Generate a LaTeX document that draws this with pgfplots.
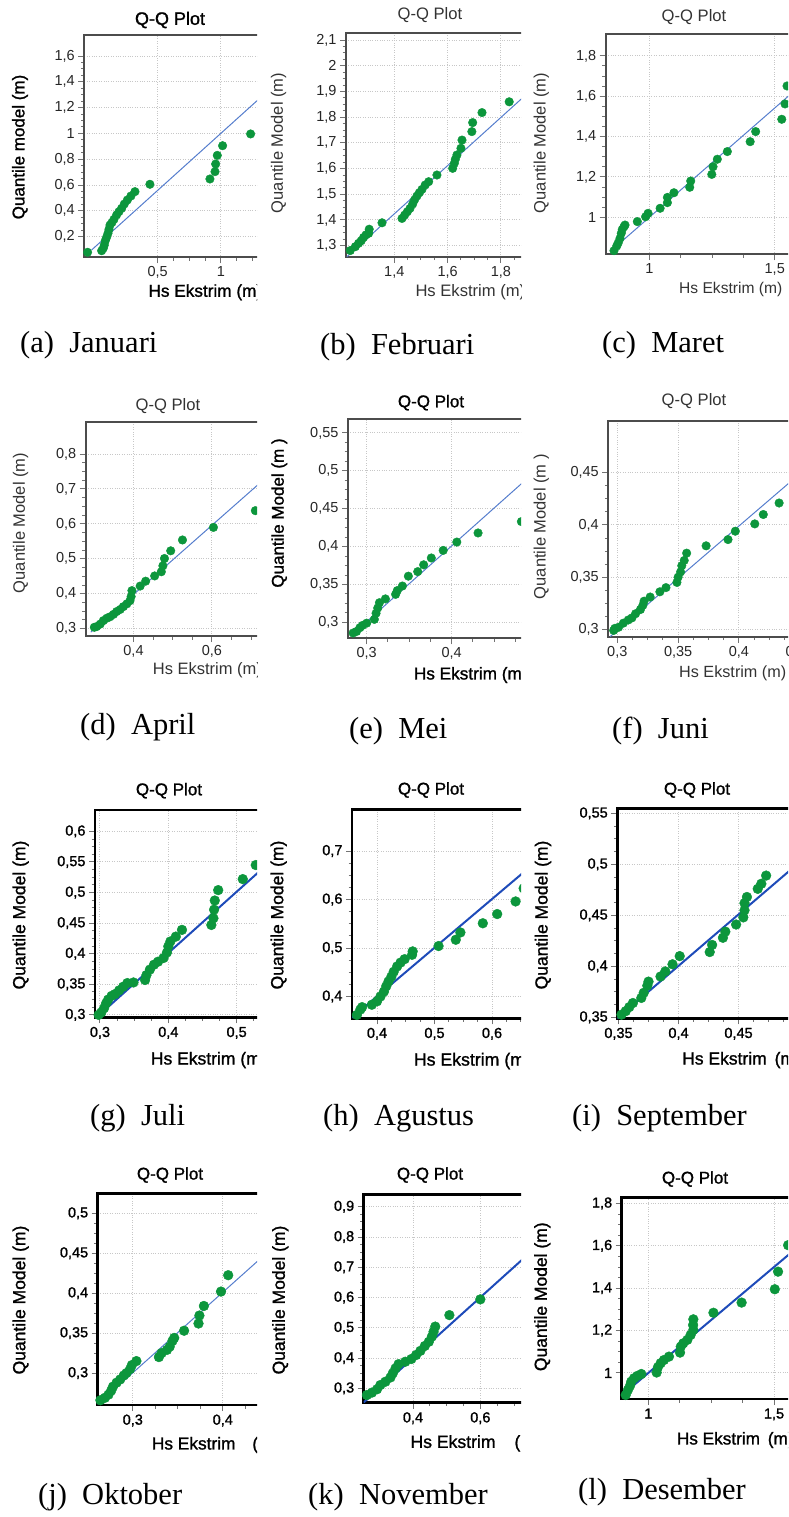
\documentclass[border=0pt]{standalone}
\usepackage{fontspec}
\setmainfont{Liberation Serif}
\newfontfamily\sans{Liberation Sans}
\newfontfamily\sansB{Liberation Sans}[FakeBold=1.2]
\usepackage{pgfplots}
\pgfplotsset{compat=1.18}
\definecolor{qqgreen}{RGB}{12,150,60}
\definecolor{blueL}{RGB}{85,125,205}
\definecolor{blueD}{RGB}{30,75,185}
\newcommand{\tickT}{\sans\fontsize{14.5pt}{16pt}\selectfont}
\newcommand{\tickH}{\sansB\fontsize{14.5pt}{16pt}\selectfont}
\newcommand{\labT}[1]{\sans\fontsize{#1pt}{18pt}\selectfont\color{black!80}}
\newcommand{\labH}[1]{\sansB\fontsize{#1pt}{18pt}\selectfont}
\newcommand{\capf}{\rmfamily\fontsize{30.5pt}{32pt}\selectfont}
\pgfplotsset{
  qq/.style={
    scale only axis, anchor=north west, clip=true,
    axis line style={line width=2pt, color=black!70},
    tick align=outside, xtick pos=left, ytick pos=left,
    grid=major, major grid style={dotted, line width=1pt, color=black!22},
    major tick length=6pt, minor tick length=3.5pt, minor tick num=3,
    every tick/.style={black!55, line width=1pt},
    tick label style={font=\tickT, text=black!85},
    /pgf/number format/use comma,
    /pgf/number format/assume math mode=true,
  },
  qqH/.style={qq,
    axis line style={line width=2.6pt, color=black},
    tick label style={font=\tickH, text=black},
  },
  ptsL/.style={only marks, mark=*, mark size=4.3pt, mark options={draw=qqgreen, fill=qqgreen}},
  ptsH/.style={only marks, mark=*, mark size=4.9pt, mark options={draw=qqgreen, fill=qqgreen}},
  lnL/.style={no marks, color=blueL, line width=1pt},
  lnH/.style={no marks, color=blueD, line width=2pt},
}
\begin{document}
\begin{tikzpicture}
\useasboundingbox (0pt,0pt) rectangle (788pt,-1517pt);

% ---------- (a) Januari
\begin{scope}
\clip (0pt,0pt) rectangle (257pt,-312pt);
\begin{axis}[qq, at={(84.3pt,-35pt)}, width=235.7pt, height=222.3pt,
  xmin=-0.079, xmax=1.782, ymin=0.040, ymax=1.763,
  xtick={0.5,1,1.5}, ytick={0.2,0.4,0.6,0.8,1,1.2,1.4,1.6}]
\addplot[lnL] coordinates {(-0.021,0.097) (1.782,1.694)};
\addplot[ptsL] coordinates {(-0.053,0.079) (0.058,0.091) (0.071,0.110) (0.079,0.135) (0.087,0.169) (0.097,0.195) (0.108,0.226) (0.116,0.257) (0.124,0.290) (0.139,0.309) (0.155,0.334) (0.176,0.368) (0.195,0.394) (0.216,0.420) (0.237,0.453) (0.261,0.484) (0.289,0.515) (0.321,0.549) (0.439,0.606) (0.913,0.647) (0.953,0.704) (0.958,0.763) (0.971,0.830) (1.013,0.905) (1.234,0.996)};
\end{axis}
\node[font={\labH{18}}] at (170pt,-20pt) {Q-Q Plot};
\node[rotate=90, font={\labH{17}}] at (20pt,-147pt) {Quantile model (m)};
\node[anchor=west, inner sep=0pt, font={\labH{17.2}}] at (148.3pt,-292.3pt) {Hs Ekstrim (m)};
\end{scope}
\node[anchor=west, inner sep=0pt, font=\capf] at (20pt,-345pt) {(a)\hspace{0.5em}Januari};

% ---------- (b) Februari
\begin{scope}
\clip (262pt,0pt) rectangle (521pt,-312pt);
\begin{axis}[qq, at={(346pt,-32.7pt)}, width=244pt, height=224pt,
  xmin=1.219, xmax=2.134, ymin=1.257, ymax=2.129,
  xtick={1.4,1.6,1.8,2.0}, ytick={1.3,1.4,1.5,1.6,1.7,1.8,1.9,2,2.1}]
\addplot[lnL] coordinates {(1.2225,1.257) (2.134,2.113)};
\addplot[ptsL] coordinates {(1.235,1.281) (1.254,1.296) (1.266,1.309) (1.276,1.319) (1.285,1.332) (1.294,1.342) (1.304,1.348) (1.306,1.364) (1.354,1.389) (1.429,1.406) (1.439,1.419) (1.449,1.432) (1.459,1.445) (1.469,1.462) (1.476,1.478) (1.485,1.493) (1.494,1.506) (1.504,1.519) (1.516,1.536) (1.529,1.549) (1.560,1.575) (1.619,1.601) (1.625,1.620) (1.629,1.636) (1.635,1.653) (1.650,1.679) (1.654,1.711) (1.691,1.744) (1.694,1.779) (1.729,1.818) (1.831,1.860)};
\end{axis}
\node[font={\labT{16.6}}] at (430pt,-15pt) {Q-Q Plot};
\node[rotate=90, font={\labT{16.5}}] at (278.7pt,-143pt) {Quantile Model (m)};
\node[anchor=west, inner sep=0pt, font={\labT{16.6}}] at (415.3pt,-292.3pt) {Hs Ekstrim (m)};
\end{scope}
\node[anchor=west, inner sep=0pt, font=\capf] at (320pt,-347pt) {(b)\hspace{0.5em}Februari};

% ---------- (c) Maret
\begin{scope}
\clip (524pt,0pt) rectangle (788pt,-312pt);
\begin{axis}[qq, at={(605.7pt,-34.3pt)}, width=254.3pt, height=220pt,
  xmin=0.826, xmax=1.840, ymin=0.817, ymax=1.907,
  xtick={1,1.5}, ytick={1,1.2,1.4,1.6,1.8}]
\addplot[lnL] coordinates {(0.866,0.855) (1.549,1.595) (1.840,1.905)};
\addplot[ptsL] coordinates {(0.859,0.835) (0.870,0.858) (0.876,0.874) (0.883,0.896) (0.888,0.921) (0.892,0.940) (0.899,0.954) (0.903,0.962) (0.952,0.979) (0.985,1.003) (0.995,1.020) (1.043,1.045) (1.072,1.073) (1.072,1.099) (1.098,1.122) (1.161,1.149) (1.165,1.180) (1.249,1.213) (1.254,1.251) (1.271,1.288) (1.311,1.326) (1.402,1.375) (1.424,1.425) (1.528,1.486) (1.541,1.562) (1.549,1.651)};
\end{axis}
\node[font={\labT{16.6}}] at (694pt,-17pt) {Q-Q Plot};
\node[rotate=90, font={\labT{16.5}}] at (541.3pt,-143pt) {Quantile Model (m)};
\node[anchor=west, inner sep=0pt, font={\labT{15.6}}] at (679pt,-289.3pt) {Hs Ekstrim (m)};
\end{scope}
\node[anchor=west, inner sep=0pt, font=\capf] at (602pt,-345pt) {(c)\hspace{0.5em}Maret};

% ---------- (d) April
\begin{scope}
\clip (0pt,-385pt) rectangle (257pt,-695pt);
\begin{axis}[qq, at={(85.7pt,-422.3pt)}, width=234.3pt, height=213.7pt,
  xmin=0.278, xmax=0.876, ymin=0.279, ymax=0.891,
  xtick={0.4,0.6,0.8}, ytick={0.3,0.4,0.5,0.6,0.7,0.8}]
\addplot[lnL] coordinates {(0.291,0.290) (0.876,0.869)};
\addplot[ptsL] coordinates {(0.300,0.304) (0.306,0.306) (0.315,0.313) (0.323,0.323) (0.332,0.330) (0.340,0.334) (0.349,0.341) (0.357,0.349) (0.366,0.355) (0.374,0.363) (0.383,0.371) (0.391,0.380) (0.394,0.392) (0.396,0.409) (0.417,0.422) (0.431,0.436) (0.454,0.451) (0.471,0.463) (0.475,0.480) (0.479,0.501) (0.495,0.523) (0.525,0.554) (0.604,0.590) (0.711,0.638)};
\end{axis}
\node[font={\labT{16.6}}] at (168pt,-406pt) {Q-Q Plot};
\node[rotate=90, font={\labT{16.5}}] at (20.7pt,-523pt) {Quantile Model (m)};
\node[anchor=west, inner sep=0pt, font={\labT{16.5}}] at (152.7pt,-670pt) {Hs Ekstrim (m)};
\end{scope}
\node[anchor=west, inner sep=0pt, font=\capf] at (80pt,-727pt) {(d)\hspace{0.5em}April};

% ---------- (e) Mei
\begin{scope}
\clip (262pt,-385pt) rectangle (521pt,-695pt);
\begin{axis}[qq, at={(348pt,-419.3pt)}, width=242pt, height=219pt,
  xmin=0.278, xmax=0.5627, ymin=0.279, ymax=0.568,
  xtick={0.3,0.4,0.5}, ytick={0.3,0.35,0.4,0.45,0.5,0.55}]
\addplot[lnL] coordinates {(0.281,0.282) (0.5627,0.5637)};
\addplot[ptsL] coordinates {(0.284,0.286) (0.288,0.288) (0.292,0.293) (0.295,0.296) (0.300,0.299) (0.309,0.304) (0.311,0.312) (0.313,0.319) (0.315,0.326) (0.322,0.331) (0.334,0.337) (0.336,0.342) (0.342,0.348) (0.349,0.361) (0.360,0.367) (0.367,0.376) (0.376,0.385) (0.390,0.395) (0.406,0.406) (0.431,0.418) (0.482,0.433)};
\end{axis}
\node[font={\labH{17}}] at (431pt,-402.7pt) {Q-Q Plot};
\node[rotate=90, font={\labH{17}}] at (279.3pt,-513pt) {Quantile Model (m )};
\node[anchor=west, inner sep=0pt, font={\labH{17.2}}] at (413.7pt,-675pt) {Hs Ekstrim (m)};
\end{scope}
\node[anchor=west, inner sep=0pt, font=\capf] at (349pt,-731pt) {(e)\hspace{0.5em}Mei};

% ---------- (f) Juni
\begin{scope}
\clip (524pt,-385pt) rectangle (788pt,-695pt);
\begin{axis}[qq, at={(608.3pt,-420.7pt)}, width=251.7pt, height=216pt,
  xmin=0.2926, xmax=0.4995, ymin=0.293, ymax=0.4998,
  xtick={0.3,0.35,0.4,0.45}, ytick={0.3,0.35,0.4,0.45}]
\addplot[lnL] coordinates {(0.294,0.293) (0.4995,0.4985)};
\addplot[ptsL] coordinates {(0.297,0.299) (0.298,0.301) (0.301,0.302) (0.305,0.306) (0.309,0.309) (0.312,0.311) (0.315,0.315) (0.319,0.319) (0.321,0.323) (0.322,0.327) (0.327,0.331) (0.335,0.336) (0.340,0.340) (0.349,0.345) (0.350,0.350) (0.352,0.355) (0.353,0.361) (0.355,0.366) (0.357,0.373) (0.373,0.380) (0.391,0.386) (0.397,0.394) (0.413,0.401) (0.420,0.410) (0.433,0.421)};
\end{axis}
\node[font={\labT{16.6}}] at (694pt,-400.7pt) {Q-Q Plot};
\node[rotate=90, font={\labT{16.5}}] at (541.3pt,-526.7pt) {Quantile Model (m )};
\node[anchor=west, inner sep=0pt, font={\labT{16.2}}] at (679pt,-673.3pt) {Hs Ekstrim (m)};
\end{scope}
\node[anchor=west, inner sep=0pt, font=\capf] at (612pt,-731pt) {(f)\hspace{0.5em}Juni};

% ---------- (g) Juli
\begin{scope}
\clip (0pt,-775pt) rectangle (257pt,-1085pt);
\begin{axis}[qqH, at={(95pt,-810pt)}, width=225pt, height=207.3pt,
  xmin=0.2927, xmax=0.622, ymin=0.296, ymax=0.635,
  xtick={0.3,0.4,0.5,0.6}, ytick={0.3,0.35,0.4,0.45,0.5,0.55,0.6}]
\addplot[lnH] coordinates {(0.295,0.296) (0.622,0.6235)};
\addplot[ptsH] coordinates {(0.298,0.300) (0.302,0.304) (0.306,0.311) (0.309,0.319) (0.312,0.325) (0.317,0.331) (0.322,0.334) (0.328,0.340) (0.334,0.346) (0.340,0.352) (0.349,0.353) (0.366,0.357) (0.368,0.365) (0.373,0.374) (0.379,0.382) (0.385,0.387) (0.393,0.393) (0.398,0.402) (0.400,0.412) (0.403,0.420) (0.411,0.428) (0.420,0.439) (0.463,0.447) (0.466,0.458) (0.467,0.472) (0.468,0.487) (0.473,0.504) (0.509,0.522) (0.528,0.545)};
\end{axis}
\node[font={\labH{17}}] at (169pt,-790.7pt) {Q-Q Plot};
\node[rotate=90, font={\labH{17.5}}] at (20.7pt,-915pt) {Quantile Model (m)};
\node[anchor=west, inner sep=0pt, font={\labH{17.5}}] at (150.7pt,-1060pt) {Hs Ekstrim (m)};
\end{scope}
\node[anchor=west, inner sep=0pt, font=\capf] at (90pt,-1118pt) {(g)\hspace{0.5em}Juli};

% ---------- (h) Agustus
\begin{scope}
\clip (262pt,-775pt) rectangle (521pt,-1085pt);
\begin{axis}[qqH, at={(352pt,-809.3pt)}, width=238pt, height=209pt,
  xmin=0.3565, xmax=0.7704, ymin=0.355, ymax=0.786,
  xtick={0.4,0.5,0.6,0.7}, ytick={0.4,0.5,0.6,0.7}]
\addplot[lnH] coordinates {(0.3565,0.3565) (0.7704,0.772)};
\addplot[ptsH] coordinates {(0.365,0.362) (0.371,0.373) (0.374,0.378) (0.391,0.383) (0.400,0.390) (0.406,0.400) (0.412,0.410) (0.416,0.421) (0.420,0.431) (0.425,0.441) (0.429,0.451) (0.435,0.462) (0.441,0.470) (0.448,0.477) (0.461,0.486) (0.462,0.493) (0.507,0.504) (0.537,0.517) (0.545,0.532) (0.584,0.551) (0.609,0.570) (0.641,0.596) (0.655,0.623)};
\end{axis}
\node[font={\labH{17}}] at (431pt,-790pt) {Q-Q Plot};
\node[rotate=90, font={\labH{17.5}}] at (278.7pt,-915pt) {Quantile Model (m)};
\node[anchor=west, inner sep=0pt, font={\labH{17.7}}] at (413.7pt,-1061pt) {Hs Ekstrim (m)};
\end{scope}
\node[anchor=west, inner sep=0pt, font=\capf] at (323pt,-1118pt) {(h)\hspace{0.5em}Agustus};

% ---------- (i) September
\begin{scope}
\clip (524pt,-775pt) rectangle (788pt,-1085pt);
\begin{axis}[qqH, at={(617.3pt,-808.3pt)}, width=242.7pt, height=210pt,
  xmin=0.349, xmax=0.5512, ymin=0.349, ymax=0.555,
  xtick={0.35,0.4,0.45,0.5}, ytick={0.35,0.4,0.45,0.5,0.55}]
\addplot[lnH] coordinates {(0.349,0.349) (0.5512,0.553)};
\addplot[ptsH] coordinates {(0.3525,0.3526) (0.356,0.356) (0.359,0.360) (0.362,0.364) (0.369,0.369) (0.371,0.374) (0.374,0.381) (0.375,0.385) (0.385,0.390) (0.389,0.395) (0.395,0.402) (0.401,0.410) (0.426,0.414) (0.428,0.421) (0.437,0.428) (0.439,0.434) (0.448,0.441) (0.454,0.448) (0.455,0.455) (0.455,0.462) (0.457,0.468) (0.466,0.476) (0.469,0.481) (0.473,0.489)};
\end{axis}
\node[font={\labH{17}}] at (697pt,-790pt) {Q-Q Plot};
\node[rotate=90, font={\labH{17.5}}] at (543pt,-915pt) {Quantile Model (m)};
\node[anchor=west, inner sep=0pt, font={\labH{17.5}}] at (682pt,-1060pt) {Hs Ekstrim\hspace{3pt} (m)};
\end{scope}
\node[anchor=west, inner sep=0pt, font=\capf] at (572pt,-1118pt) {(i)\hspace{0.5em}September};

% ---------- (j) Oktober
\begin{scope}
\clip (0pt,-1160pt) rectangle (257pt,-1465pt);
\begin{axis}[qqH, at={(97.7pt,-1193.3pt)}, width=222.3pt, height=211.7pt,
  xmin=0.261, xmax=0.508, ymin=0.260, ymax=0.525,
  xtick={0.3,0.4,0.5}, ytick={0.3,0.35,0.4,0.45,0.5}]
\addplot[lnL] coordinates {(0.261,0.261) (0.508,0.510)};
\addplot[ptsH] coordinates {(0.264,0.266) (0.269,0.269) (0.273,0.273) (0.276,0.278) (0.278,0.283) (0.282,0.288) (0.286,0.292) (0.290,0.297) (0.293,0.300) (0.297,0.305) (0.299,0.310) (0.304,0.315) (0.329,0.320) (0.332,0.325) (0.338,0.329) (0.341,0.333) (0.344,0.340) (0.346,0.344) (0.357,0.353) (0.373,0.362) (0.374,0.372) (0.379,0.384) (0.398,0.402) (0.406,0.4225)};
\end{axis}
\node[font={\labH{17}}] at (170pt,-1175pt) {Q-Q Plot};
\node[rotate=90, font={\labH{17.5}}] at (20.7pt,-1300pt) {Quantile Model (m)};
\node[anchor=west, inner sep=0pt, font={\labH{17.3}}] at (151.7pt,-1445pt) {Hs Ekstrim\hspace{12pt} (m)};
\end{scope}
\node[anchor=west, inner sep=0pt, font=\capf] at (38pt,-1497pt) {(j)\hspace{0.5em}Oktober};

% ---------- (k) November
\begin{scope}
\clip (262pt,-1160pt) rectangle (521pt,-1465pt);
\begin{axis}[qqH, at={(363.7pt,-1194.3pt)}, width=226.3pt, height=208.4pt,
  xmin=0.2535, xmax=0.9257, ymin=0.2526, ymax=0.941,
  xtick={0.4,0.6,0.8}, ytick={0.3,0.4,0.5,0.6,0.7,0.8,0.9}]
\addplot[lnH] coordinates {(0.2535,0.2535) (0.9257,0.927)};
\addplot[ptsH] coordinates {(0.263,0.278) (0.278,0.286) (0.293,0.297) (0.303,0.311) (0.318,0.322) (0.333,0.336) (0.340,0.350) (0.348,0.366) (0.357,0.380) (0.377,0.388) (0.395,0.397) (0.409,0.410) (0.422,0.424) (0.435,0.440) (0.447,0.454) (0.456,0.471) (0.461,0.487) (0.466,0.504) (0.508,0.542) (0.600,0.594)};
\end{axis}
\node[font={\labH{17}}] at (430pt,-1175pt) {Q-Q Plot};
\node[rotate=90, font={\labH{17.5}}] at (280.3pt,-1300pt) {Quantile Model (m)};
\node[anchor=west, inner sep=0pt, font={\labH{17.6}}] at (410.3pt,-1443.3pt) {Hs Ekstrim\hspace{14pt} (m)};
\end{scope}
\node[anchor=west, inner sep=0pt, font=\capf] at (308pt,-1497pt) {(k)\hspace{0.5em}November};

% ---------- (l) Desember
\begin{scope}
\clip (524pt,-1160pt) rectangle (788pt,-1465pt);
\begin{axis}[qqH, at={(621.7pt,-1197.7pt)}, width=238.3pt, height=201.3pt,
  xmin=0.894, xmax=1.842, ymin=0.877, ymax=1.827,
  xtick={1,1.5}, ytick={1,1.2,1.4,1.6,1.8}]
\addplot[lnH] coordinates {(0.894,0.894) (1.842,1.842)};
\addplot[ptsH] coordinates {(0.910,0.896) (0.919,0.920) (0.927,0.939) (0.932,0.959) (0.943,0.975) (0.956,0.986) (0.972,0.995) (1.033,1.002) (1.038,1.027) (1.049,1.046) (1.062,1.061) (1.082,1.077) (1.126,1.096) (1.129,1.124) (1.139,1.140) (1.155,1.156) (1.168,1.179) (1.179,1.203) (1.178,1.226) (1.179,1.253) (1.259,1.284) (1.371,1.332) (1.503,1.395) (1.516,1.478) (1.556,1.603)};
\end{axis}
\node[font={\labH{17}}] at (695pt,-1179pt) {Q-Q Plot};
\node[rotate=90, font={\labH{17.5}}] at (542.3pt,-1296.7pt) {Quantile Model (m)};
\node[anchor=west, inner sep=0pt, font={\labH{17.2}}] at (676.7pt,-1440pt) {Hs Ekstrim\hspace{3pt} (m)};
\end{scope}
\node[anchor=west, inner sep=0pt, font=\capf] at (578pt,-1492pt) {(l)\hspace{0.5em}Desember};
\end{tikzpicture}
\end{document}
